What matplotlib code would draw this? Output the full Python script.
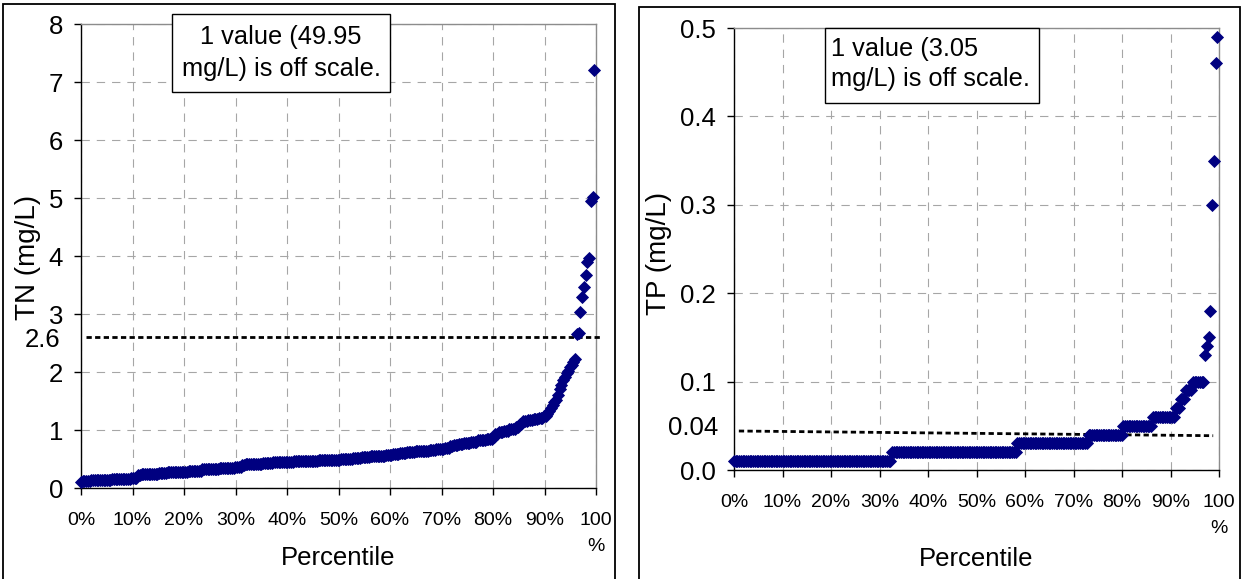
import numpy as np
import matplotlib
matplotlib.use("Agg")
import matplotlib.pyplot as plt
from matplotlib.patches import Rectangle

plt.rcParams['font.family'] = ['Liberation Sans', 'DejaVu Sans']
plt.rcParams['lines.scale_dashes'] = False

# ---------------- data (sorted sample values, run-length: level + count) ----------------
tn_levels = [0.10, 0.12, 0.13, 0.14, 0.15, 0.16, 0.17,
             0.22, 0.24, 0.25, 0.26,
             0.27, 0.28,
             0.29, 0.30, 0.32,
             0.33, 0.34, 0.35, 0.36,
             0.39, 0.41, 0.42, 0.43, 0.44,
             0.45, 0.46, 0.47, 0.48,
             0.49, 0.50,
             0.51, 0.53, 0.55,
             0.56, 0.57, 0.59, 0.60,
             0.62, 0.63, 0.64, 0.65, 0.67,
             0.69, 0.72, 0.75, 0.76,
             0.78, 0.80, 0.82, 0.84,
             0.88, 0.93, 0.97, 0.99, 1.01,
             1.05, 1.10, 1.15, 1.17,
             1.19, 1.21, 1.24,
             1.28, 1.33, 1.38, 1.43, 1.48, 1.52,
             1.60, 1.70, 1.78, 1.86,
             1.92, 1.98, 2.02, 2.08, 2.12,
             2.18, 2.22,
             2.65, 2.67, 3.03, 3.30, 3.47, 3.68, 3.90, 3.97, 4.95, 5.02, 7.20, 49.95]
tn_counts = [1, 5, 6, 6, 6, 5, 4,
             2, 5, 5, 5,
             6, 6,
             4, 4, 5,
             5, 5, 4, 4,
             2, 5, 5, 6, 6,
             6, 7, 7, 7,
             6, 7,
             5, 5, 5,
             4, 4, 4, 4,
             5, 4, 4, 4, 5,
             3, 2, 3, 3,
             4, 4, 5, 4,
             1, 2, 3, 3, 4,
             2, 2, 3, 3,
             3, 3, 2,
             1, 1, 1, 1, 1, 1,
             1, 1, 1, 1,
             1, 1, 1, 1, 1,
             1, 1,
             1, 1, 1, 1, 1, 1, 1, 1, 1, 1, 1, 1]

tp_levels = [0.01, 0.02, 0.03, 0.04, 0.05, 0.06, 0.07, 0.08, 0.09, 0.10,
             0.13, 0.14, 0.15, 0.18, 0.30, 0.35, 0.46, 0.49, 3.05]
tp_counts = [91, 72, 41, 20, 17, 13, 3, 3, 4, 7,
             1, 1, 1, 1, 1, 1, 1, 1, 1]

tn_threshold = 2.6
tp_threshold_ends = [0.0441, 0.0388]   # hand-drawn line, slightly sloped
tp_threshold_label = "0.04"
tn_threshold_label = "2.6"

pct_ticks = [0, 10, 20, 30, 40, 50, 60, 70, 80, 90, 100]
pct_labels = ["0%", "10%", "20%", "30%", "40%", "50%", "60%", "70%", "80%", "90%", "100\n%"]
tn_yticks = [0, 1, 2, 3, 4, 5, 6, 7, 8]
tp_yticks = [0.0, 0.1, 0.2, 0.3, 0.4, 0.5]

tn_note = "1 value (49.95\nmg/L) is off scale."
tp_note = "1 value (3.05\nmg/L) is off scale."

# ---------------- derived ----------------
tn_values = np.repeat(tn_levels, tn_counts)
tp_values = np.repeat(tp_levels, tp_counts)
tn_pct = np.arange(len(tn_values)) / (len(tn_values) - 1) * 100
tp_pct = np.arange(len(tp_values)) / (len(tp_values) - 1) * 100

W, H = 1242, 579
fig = plt.figure(figsize=(W / 100, H / 100), dpi=100)


def rect(x0, x1, ytop, ybot):
    return [x0 / W, 1 - ybot / H, (x1 - x0) / W, (ybot - ytop) / H]


ax1 = fig.add_axes(rect(81, 596, 24, 488))
ax2 = fig.add_axes(rect(734, 1219, 28, 470))

navy = '#000080'
YT_FS = 18.5
XT_FS = 14
XLAB_FS = 18.5
YLAB_FS = 20
NOTE_FS = 18.3
MS = 6

for ax in (ax1, ax2):
    ax.set_xlim(0, 100)
    ax.set_xticks(pct_ticks)
    ax.set_xticklabels(pct_labels, fontsize=XT_FS, linespacing=1.75)
    ax.tick_params(axis='x', direction='out', length=5, width=1, pad=12, colors='black')
    ax.tick_params(axis='y', direction='out', length=5, width=1, pad=8, labelsize=YT_FS)
    for s in ('left', 'bottom'):
        ax.spines[s].set_color('black')
        ax.spines[s].set_linewidth(1.0)
    for s in ('top', 'right'):
        ax.spines[s].set_color('#8c8c8c')
        ax.spines[s].set_linewidth(1.0)
    ax.grid(True, color='#a6a6a6', linestyle=(0, (6, 5)), linewidth=0.8)
    ax.set_axisbelow(True)
    ax.set_xlabel("Percentile", fontsize=XLAB_FS)

# ---- TN panel ----
ax1.set_ylim(0, 8)
ax1.set_yticks(tn_yticks)
ax1.set_yticklabels([str(v) for v in tn_yticks])
m1 = tn_values <= 8
ax1.plot(tn_pct[m1], tn_values[m1], linestyle='none', marker='D', ms=MS,
         color=navy, mec=navy, mew=0.6, clip_on=False, zorder=5)
ax1.plot([1, 101], [tn_threshold, tn_threshold], color='black', lw=2.0,
         linestyle=(0, (3.8, 2.4)), clip_on=False, zorder=4)
ax1.text(-0.04, tn_threshold - 0.05, tn_threshold_label, transform=ax1.get_yaxis_transform(),
         ha='right', va='center', fontsize=YT_FS)
ax1.set_ylabel("TN (mg/L)", fontsize=YLAB_FS)
ax1.yaxis.set_label_coords(-0.077, 0.497)
ax1.xaxis.set_label_coords(0.5, -0.125)

# ---- TP panel ----
ax2.set_ylim(0, 0.5)
ax2.set_yticks(tp_yticks)
ax2.set_yticklabels([f"{v:.1f}" for v in tp_yticks])
m2 = tp_values <= 0.5
ax2.plot(tp_pct[m2], tp_values[m2], linestyle='none', marker='D', ms=MS,
         color=navy, mec=navy, mew=0.6, clip_on=False, zorder=5)
ax2.plot([1, 98.8], tp_threshold_ends, color='black', lw=2.0,
         linestyle=(0, (3.8, 2.4)), clip_on=False, zorder=4)
ax2.text(-0.033, 0.047, tp_threshold_label, transform=ax2.get_yaxis_transform(),
         ha='right', va='center', fontsize=YT_FS)
ax2.set_ylabel("TP (mg/L)", fontsize=YLAB_FS)
ax2.yaxis.set_label_coords(-0.128, 0.49)
ax2.xaxis.set_label_coords(0.5, -0.175)

# ---- notes ----
fig.add_artist(Rectangle((172 / W, 1 - 92 / H), 218 / W, 78 / H, transform=fig.transFigure,
                         facecolor='white', edgecolor='black', lw=1.0, zorder=10))
fig.text(281 / W, 1 - 53 / H, tn_note, ha='center', va='center', multialignment='center',
         fontsize=NOTE_FS, linespacing=1.4, zorder=11)
fig.add_artist(Rectangle((825 / W, 1 - 103 / H), 214 / W, 75 / H, transform=fig.transFigure,
                         facecolor='white', edgecolor='black', lw=1.0, zorder=10))
fig.text(831 / W, 1 - 64 / H, tp_note, ha='left', va='center', multialignment='left',
         fontsize=NOTE_FS, linespacing=1.35, zorder=11)

# ---- panel borders ----
fig.add_artist(Rectangle((3 / W, -0.02), (615 - 3) / W, 1.02 - 4 / H, transform=fig.transFigure,
                         fill=False, edgecolor='black', lw=1.3))
fig.add_artist(Rectangle((639 / W, -0.02), (1240 - 639) / W, 1.02 - 7 / H, transform=fig.transFigure,
                         fill=False, edgecolor='black', lw=1.3))

fig.savefig("out.png", dpi=100)
